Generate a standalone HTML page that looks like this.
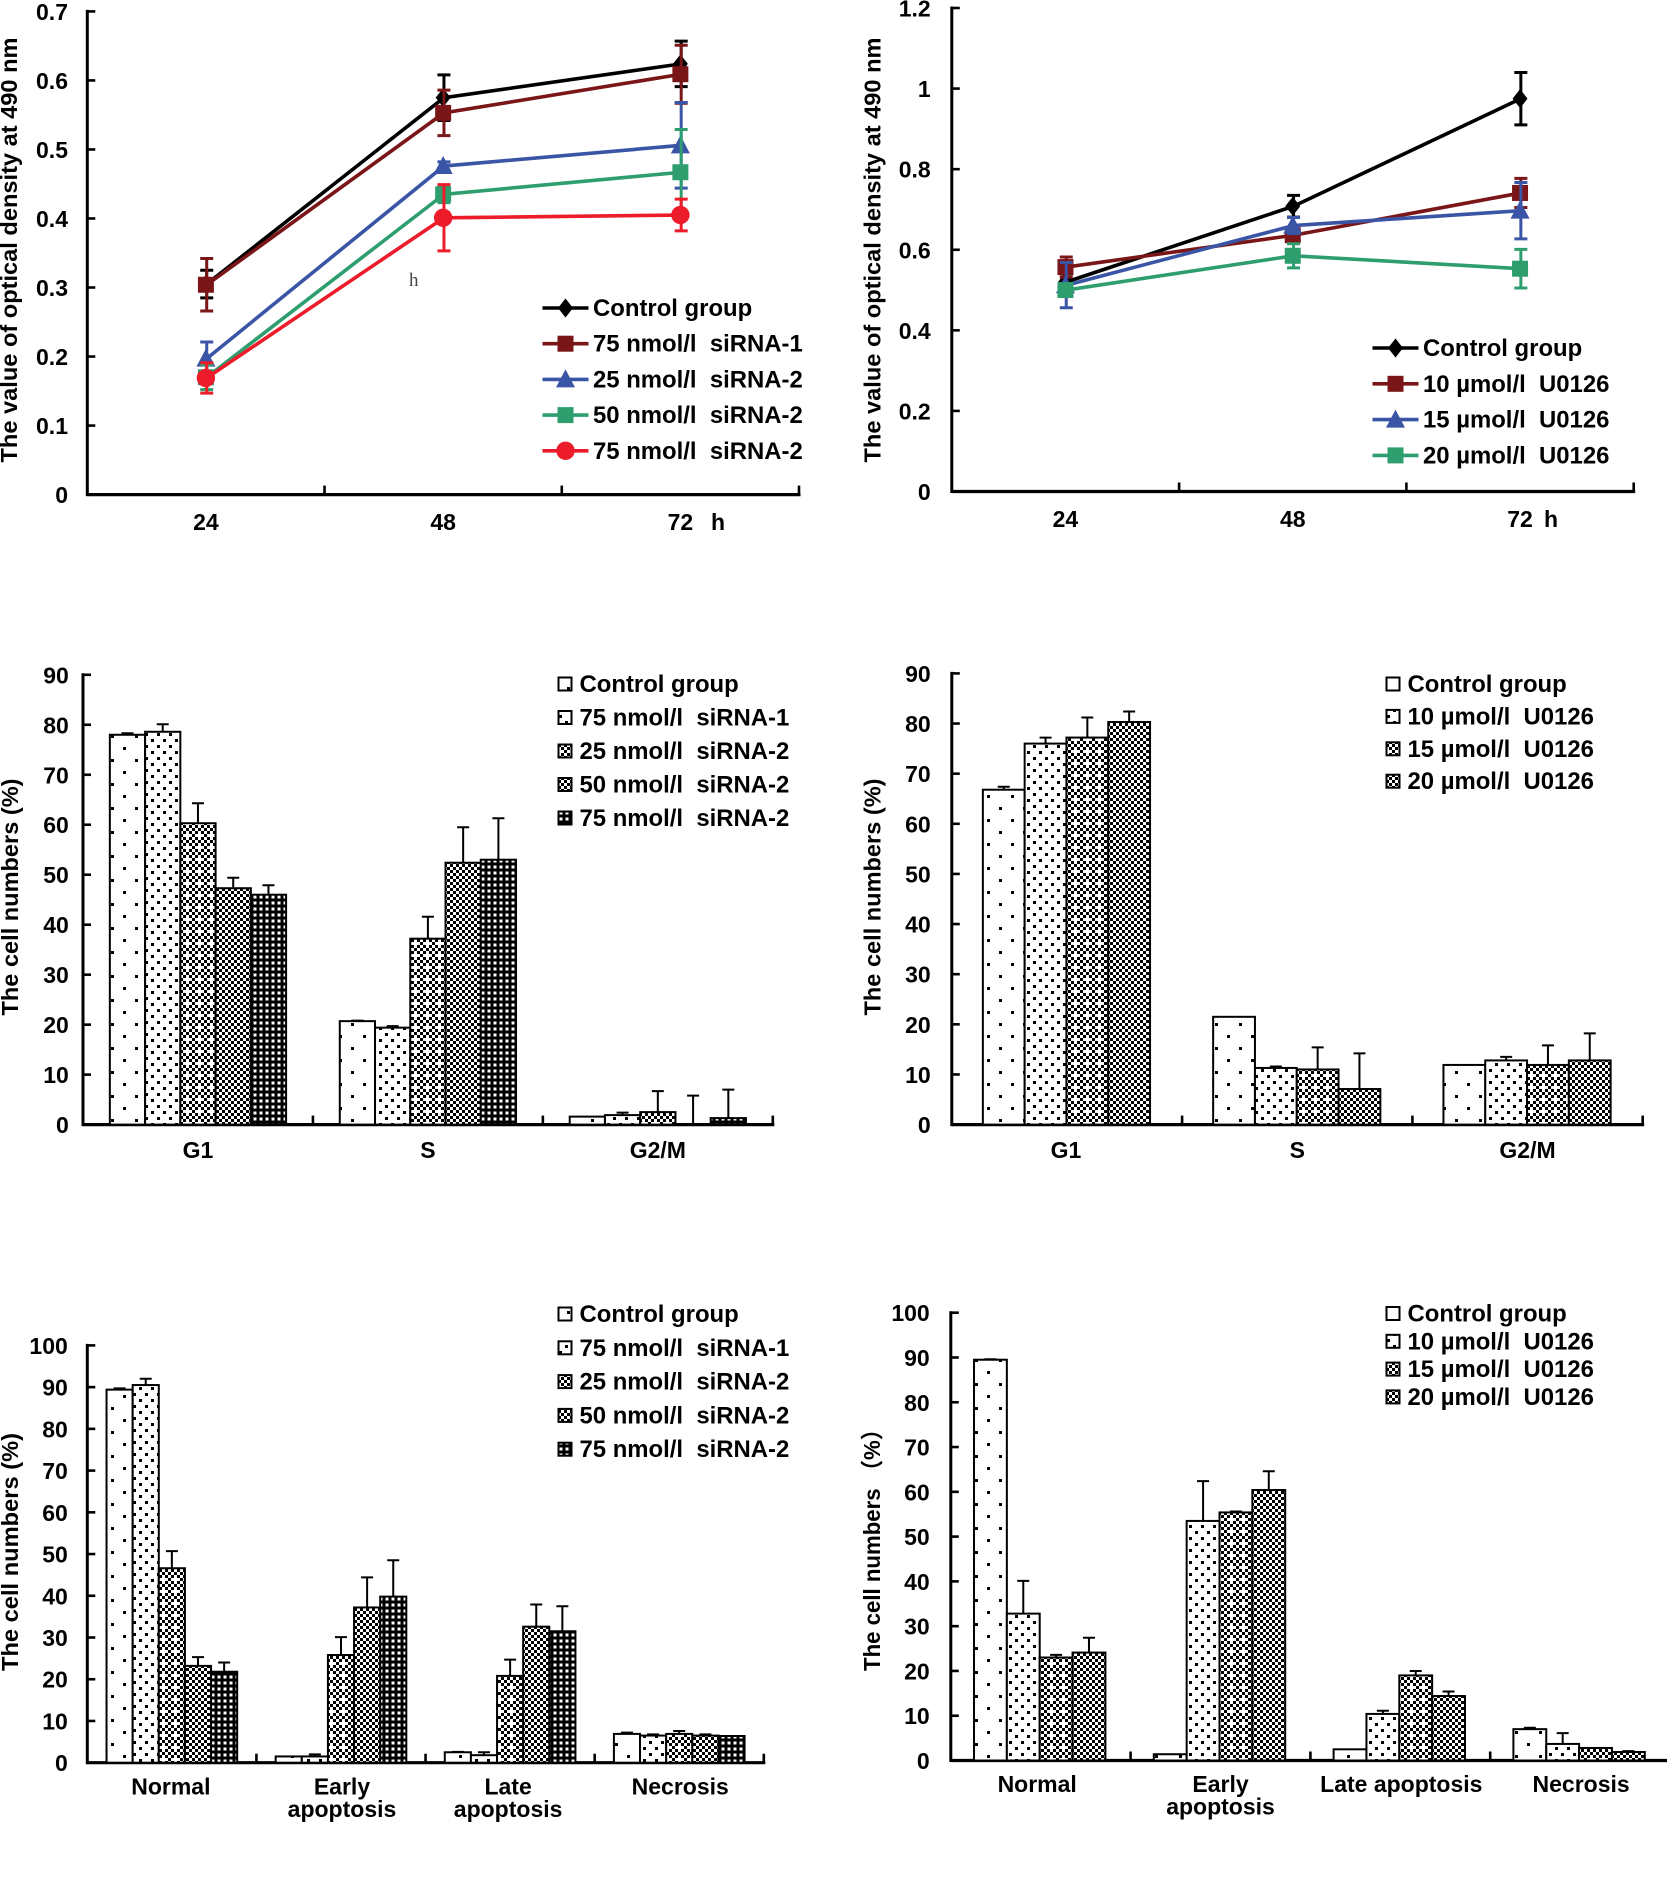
<!DOCTYPE html>
<html lang="en">
<head>
<meta charset="utf-8">
<title>Optical density and cell number charts</title>
<style>
html,body{margin:0;padding:0;background:#fff;width:1667px;height:1900px;overflow:hidden}
svg{display:block}
text{font-family:"Liberation Sans","Noto Sans CJK SC",sans-serif;font-weight:bold;fill:#000;white-space:pre}
</style>
</head>
<body>
<svg id="figure" xmlns="http://www.w3.org/2000/svg" width="1667" height="1900" viewBox="0 0 1667 1900">
<defs>
<pattern id="fill-sparse" width="24" height="24" patternUnits="userSpaceOnUse"><rect width="24" height="24" fill="#fff"/><rect x="3" y="3" width="3" height="3" fill="#000"/><rect x="15" y="15" width="3" height="3" fill="#000"/></pattern>
<pattern id="fill-dense" width="12" height="12" patternUnits="userSpaceOnUse"><rect width="12" height="12" fill="#fff"/><rect x="1" y="1" width="3" height="3" fill="#000"/><rect x="7" y="7" width="3" height="3" fill="#000"/></pattern>
<pattern id="fill-cross" width="12" height="12" patternUnits="userSpaceOnUse"><rect width="12" height="12" fill="#fff"/><rect x="0" y="0" width="3" height="3" fill="#000"/><rect x="6" y="0" width="3" height="3" fill="#000"/><rect x="3" y="3" width="3" height="3" fill="#000"/><rect x="9" y="3" width="3" height="3" fill="#000"/><rect x="0" y="6" width="3" height="3" fill="#000"/><rect x="9" y="9" width="3" height="3" fill="#000"/><rect x="3" y="9" width="3" height="3" fill="#000"/></pattern>
<pattern id="fill-fine" width="6" height="6" patternUnits="userSpaceOnUse"><rect width="6" height="6" fill="#fff"/><rect x="0" y="0" width="3" height="3" fill="#000"/><rect x="3" y="3" width="3" height="3" fill="#000"/></pattern>
<pattern id="fill-dark" width="6" height="6" patternUnits="userSpaceOnUse"><rect width="6" height="6" fill="#000"/><rect x="1.5" y="1.5" width="3" height="3" fill="#fff"/></pattern>
</defs>
<text x="409" y="286" style="font-family:'Liberation Serif',serif;font-weight:normal;font-size:19px;fill:#444">h</text>
</svg>
<script>
// ---------- Chart A: viability, siRNA ----------
const odSiCategories = ['24', '48', '72'];
const odSiTicks = ['0', '0.1', '0.2', '0.3', '0.4', '0.5', '0.6', '0.7'];
const odSiControl = [0.305, 0.575, 0.624];
const odSiControlErr = [0.02, 0.033, 0.033];
const odSi1At75 = [0.304, 0.553, 0.609];
const odSi1At75Err = [0.038, 0.033, 0.042];
const odSi2At25 = [0.197, 0.476, 0.506];
const odSi2At25Err = [0.024, 0.006, 0.062];
const odSi2At50 = [0.17, 0.435, 0.467];
const odSi2At50Err = [0.018, 0.012, 0.062];
const odSi2At75 = [0.169, 0.401, 0.405];
const odSi2At75Err = [0.022, 0.048, 0.023];

// ---------- Chart B: viability, U0126 ----------
const odUCategories = ['24', '48', '72'];
const odUTicks = ['0', '0.2', '0.4', '0.6', '0.8', '1', '1.2'];
const odUControl = [0.52, 0.708, 0.975];
const odUControlErr = [0.02, 0.027, 0.065];
const odUAt10 = [0.557, 0.636, 0.741];
const odUAt10Err = [0.025, 0.01, 0.036];
const odUAt15 = [0.512, 0.66, 0.697];
const odUAt15Err = [0.056, 0.02, 0.07];
const odUAt20 = [0.5, 0.585, 0.553];
const odUAt20Err = [0.015, 0.03, 0.048];

// ---------- Chart C: cell cycle, siRNA ----------
const cycleCategories = ['G1', 'S', 'G2/M'];
const cycleTicks = ['0', '10', '20', '30', '40', '50', '60', '70', '80', '90'];
const cycleSiControl = [78, 20.7, 1.6];
const cycleSiControlErr = [0.3, 0.1, 0];
const cycleSi1At75 = [78.6, 19.4, 1.9];
const cycleSi1At75Err = [1.5, 0.3, 0.5];
const cycleSi2At25 = [60.3, 37.2, 2.5];
const cycleSi2At25Err = [4, 4.4, 4.2];
const cycleSi2At50 = [47.3, 52.4, 0];
const cycleSi2At50Err = [2.1, 7.1, 5.8];
const cycleSi2At75 = [46, 53, 1.3];
const cycleSi2At75Err = [1.9, 8.3, 5.7];

// ---------- Chart D: cell cycle, U0126 ----------
const cycleUControl = [66.8, 21.5, 11.9];
const cycleUControlErr = [0.6, 0, 0];
const cycleUAt10 = [76, 11.3, 12.8];
const cycleUAt10Err = [1.2, 0.3, 0.7];
const cycleUAt15 = [77.2, 11, 11.9];
const cycleUAt15Err = [4, 4.4, 3.9];
const cycleUAt20 = [80.3, 7.1, 12.8];
const cycleUAt20Err = [2.1, 7.1, 5.4];

// ---------- Chart E: apoptosis, siRNA ----------
const apoSiCategories = [['Normal'], ['Early', 'apoptosis'], ['Late', 'apoptosis'], ['Necrosis']];
const apoTicks = ['0', '10', '20', '30', '40', '50', '60', '70', '80', '90', '100'];
const apoSiControl = [89.4, 1.5, 2.5, 6.9];
const apoSiControlErr = [0.3, 0, 0.1, 0.3];
const apoSi1At75 = [90.5, 1.5, 1.8, 6.5];
const apoSi1At75Err = [1.5, 0.5, 0.7, 0.3];
const apoSi2At25 = [46.6, 25.8, 20.8, 6.9];
const apoSi2At25Err = [4.1, 4.3, 3.9, 0.7];
const apoSi2At50 = [23.2, 37.2, 32.6, 6.5];
const apoSi2At50Err = [2.1, 7.2, 5.3, 0.3];
const apoSi2At75 = [21.8, 39.8, 31.5, 6.4];
const apoSi2At75Err = [2.2, 8.7, 6, 0];

// ---------- Chart F: apoptosis, U0126 ----------
const apoUCategories = [['Normal'], ['Early', 'apoptosis'], ['Late apoptosis'], ['Necrosis']];
const apoUControl = [89.5, 1.4, 2.5, 7];
const apoUControlErr = [0.1, 0, 0, 0.3];
const apoUAt10 = [32.8, 53.5, 10.4, 3.7];
const apoUAt10Err = [7.3, 8.9, 0.7, 2.4];
const apoUAt15 = [23, 55.4, 19, 2.8];
const apoUAt15Err = [0.6, 0.2, 1, 0];
const apoUAt20 = [24.1, 60.4, 14.4, 1.9];
const apoUAt20Err = [3.3, 4.2, 1, 0.2];

// ---------- Legend names ----------
const siNames = ['Control group', '75 nmol/l  siRNA-1', '25 nmol/l  siRNA-2', '50 nmol/l  siRNA-2', '75 nmol/l  siRNA-2'];
const uNames = ['Control group', '10 µmol/l  U0126', '15 µmol/l  U0126', '20 µmol/l  U0126'];

const SVG_NS = 'http://www.w3.org/2000/svg';
const figure = document.getElementById('figure');
const TICK_FONT = 23;
const LEGEND_FONT = 23.9;

function svgEl(parent, tag, attrs) {
  const el = document.createElementNS(SVG_NS, tag);
  for (const k in attrs) el.setAttribute(k, attrs[k]);
  parent.appendChild(el);
  return el;
}
function label(parent, str, x, y, size, anchor) {
  const el = svgEl(parent, 'text', { x: x, y: y, 'font-size': size, 'text-anchor': anchor });
  el.textContent = str;
  return el;
}
function kebab(s) {
  return String(s).toLowerCase().replace(/[^a-z0-9]+/g, '-').replace(/^-|-$/g, '');
}

function drawAxes(g, c) {
  const yS = v => c.y0 - v / c.yMax * (c.y0 - c.yTop);
  const band = (c.xRight - c.xLeft) / c.categories.length;
  const yAxis = svgEl(g, 'line', { x1: c.xLeft, x2: c.xLeft, y1: c.yTop - 1.5, y2: c.y0 + 1.5, stroke: '#000', 'stroke-width': 3 });
  
  
  const xAxis = svgEl(g, 'line', { x1: c.xLeft, x2: c.xRight + 1.5, y1: c.y0, y2: c.y0, stroke: '#000', 'stroke-width': 3.2 });
  
  
  c.ticks.forEach(t => {
    const y = yS(Number(t));
    const mark = svgEl(g, 'line', { x1: c.xLeft, x2: c.xLeft + 8, y1: y, y2: y, stroke: '#000', 'stroke-width': 2.6 });
    
    
    const txt = label(g, t, c.tickRight, y + 8.5, TICK_FONT, 'end');
    
    
  });
  c.categories.forEach((cat, i) => {
    const edge = c.xLeft + band * (i + 1);
    const mark = svgEl(g, 'line', { x1: edge, x2: edge, y1: c.y0, y2: c.y0 - 9, stroke: '#000', 'stroke-width': 2.6 });
    
    
    const lines = Array.isArray(cat) ? cat : [cat];
    const shift = c.catShift ? c.catShift[i] : 0;
    lines.forEach((ln, j) => {
      const txt = label(g, ln, c.xLeft + band * (i + 0.5) + shift, c.catBase + j * 22.5, TICK_FONT, 'middle');
      
      
    });
  });
  const title = svgEl(g, 'text', {
    transform: 'translate(' + c.titleX + ',' + c.titleY + ') rotate(-90)',
    'text-anchor': 'middle', 'font-size': 23, textLength: c.titleLen, lengthAdjust: 'spacingAndGlyphs'
  });
  title.textContent = c.title;
  
  
  if (c.unit) {
    const unit = label(g, c.unit, c.unitX, c.catBase, TICK_FONT, 'start');
    
    
  }
  return { yS: yS, band: band };
}

function marker(g, kind, cx, cy, color) {
  let el;
  if (kind === 'diamond') {
    el = svgEl(g, 'polygon', { points: [cx, cy - 9.5, cx + 7.5, cy, cx, cy + 9.5, cx - 7.5, cy].join(' '), fill: color });
  } else if (kind === 'square') {
    el = svgEl(g, 'rect', { x: cx - 8, y: cy - 8, width: 16, height: 16, fill: color });
  } else if (kind === 'triangle') {
    el = svgEl(g, 'polygon', { points: [cx, cy - 10, cx + 9.5, cy + 8, cx - 9.5, cy + 8].join(' '), fill: color });
  } else {
    el = svgEl(g, 'circle', { cx: cx, cy: cy, r: 9.2, fill: color });
  }
  return el;
}

function drawLineChart(c) {
  const g = svgEl(figure, 'g', {});
  
  
  const ax = drawAxes(g, c);
  const xS = i => c.xLeft + ax.band * (i + 0.5) + 0.8;
  c.series.forEach(s => {
    const sg = svgEl(g, 'g', {});
    
    
    s.values.forEach((v, i) => {
      const x = xS(i), top = ax.yS(v + s.err[i]), bot = ax.yS(v - s.err[i]);
      const bar = svgEl(sg, 'path', {
        d: 'M' + x + ' ' + top + 'V' + bot + 'M' + (x - 6.5) + ' ' + top + 'H' + (x + 6.5) + 'M' + (x - 6.5) + ' ' + bot + 'H' + (x + 6.5),
        stroke: s.color, 'stroke-width': 3, fill: 'none'
      });
      
      
    });
    const line = svgEl(sg, 'polyline', {
      points: s.values.map((v, i) => xS(i) + ',' + ax.yS(v)).join(' '),
      fill: 'none', stroke: s.color, 'stroke-width': 3.6
    });
    
    
    s.values.forEach((v, i) => {
      const pt = marker(sg, s.marker, xS(i) - 0.8, ax.yS(v), s.color);
      
      
    });
  });
  const lg = svgEl(g, 'g', {});
  
  
  c.series.forEach((s, i) => {
    const y = c.legY + i * c.legStep;
    const entry = svgEl(lg, 'g', {});
    
    
    svgEl(entry, 'line', { x1: c.legX, x2: c.legX + 46, y1: y, y2: y, stroke: s.color, 'stroke-width': 3.6 });
    marker(entry, s.marker, c.legX + 23, y, s.color);
    label(entry, s.label, c.legX + 50.5, y + 8, LEGEND_FONT, 'start');
  });
}

function drawBarChart(c) {
  const g = svgEl(figure, 'g', {});
  
  
  const ax = drawAxes(g, c);
  const barW = ax.band * c.barFrac;
  const n = c.series.length;
  c.series.forEach((s, si) => {
    const sg = svgEl(g, 'g', {});
    
    
    s.values.forEach((v, i) => {
      const x = c.xLeft + ax.band * (i + 0.5) + c.barShift + (si - n / 2) * barW;
      const y = ax.yS(v), yE = ax.yS(v + s.err[i]), cx = x + barW / 2;
      if (s.err[i] > 0) {
        const e = svgEl(sg, 'path', {
          d: 'M' + cx + ' ' + y + 'V' + yE + 'M' + (cx - 6) + ' ' + yE + 'H' + (cx + 6),
          stroke: '#000', 'stroke-width': 2, fill: 'none'
        });
        
        
      }
      const r = svgEl(sg, 'rect', { x: x, y: y, width: barW, height: Math.max(c.y0 - y, 0), fill: 'url(#' + s.fill + ')', stroke: '#000', 'stroke-width': 2 });
      
      
    });
  });
  const lg = svgEl(g, 'g', {});
  
  
  c.series.forEach((s, i) => {
    const y = c.legY + i * c.legStep;
    const entry = svgEl(lg, 'g', {});
    
    
    svgEl(entry, 'rect', { x: c.legX, y: y - 6.5, width: 13, height: 13, fill: 'url(#' + s.fill + ')', stroke: '#000', 'stroke-width': 2 });
    label(entry, s.label, c.legX + 21, y + 8, LEGEND_FONT, 'start');
  });
}

const BLACK = '#000000', MAROON = '#7a1518', BLUE = '#3a55a5', GREEN = '#2f9e6e', RED = '#ec1c2a';

drawLineChart({
  name: 'viability-chart-sirna', categories: odSiCategories, ticks: odSiTicks, yMax: 0.7,
  xLeft: 87.3, xRight: 799, y0: 494.6, yTop: 11.4, tickRight: 68, catBase: 530, unit: 'h', unitX: 711,
  title: 'The value of optical density at 490 nm', titleX: 17, titleY: 250, titleLen: 425,
  legX: 542.5, legY: 308, legStep: 35.7,
  series: [
    { label: siNames[0], values: odSiControl, err: odSiControlErr, color: BLACK, marker: 'diamond' },
    { label: siNames[1], values: odSi1At75, err: odSi1At75Err, color: MAROON, marker: 'square' },
    { label: siNames[2], values: odSi2At25, err: odSi2At25Err, color: BLUE, marker: 'triangle' },
    { label: siNames[3], values: odSi2At50, err: odSi2At50Err, color: GREEN, marker: 'square' },
    { label: siNames[4], values: odSi2At75, err: odSi2At75Err, color: RED, marker: 'circle' }
  ]
});

drawLineChart({
  name: 'viability-chart-u0126', categories: odUCategories, ticks: odUTicks, yMax: 1.2,
  xLeft: 951.8, xRight: 1633.7, y0: 491.5, yTop: 8, tickRight: 930.7, catBase: 527, unit: 'h', unitX: 1544,
  title: 'The value of optical density at 490 nm', titleX: 880.5, titleY: 250, titleLen: 425,
  legX: 1372.5, legY: 348, legStep: 35.8,
  series: [
    { label: uNames[0], values: odUControl, err: odUControlErr, color: BLACK, marker: 'diamond' },
    { label: uNames[1], values: odUAt10, err: odUAt10Err, color: MAROON, marker: 'square' },
    { label: uNames[2], values: odUAt15, err: odUAt15Err, color: BLUE, marker: 'triangle' },
    { label: uNames[3], values: odUAt20, err: odUAt20Err, color: GREEN, marker: 'square' }
  ]
});

drawBarChart({
  name: 'cell-cycle-chart-sirna', categories: cycleCategories, ticks: cycleTicks, yMax: 90,
  xLeft: 83, xRight: 772.8, y0: 1124.6, yTop: 674.8, tickRight: 68.8, catBase: 1158,
  title: 'The cell numbers (%)', titleX: 18, titleY: 897, titleLen: 237,
  legX: 558.5, legY: 684, legStep: 33.5, barFrac: 0.1533, barShift: 0,
  series: [
    { label: siNames[0], values: cycleSiControl, err: cycleSiControlErr, fill: 'fill-sparse' },
    { label: siNames[1], values: cycleSi1At75, err: cycleSi1At75Err, fill: 'fill-dense' },
    { label: siNames[2], values: cycleSi2At25, err: cycleSi2At25Err, fill: 'fill-cross' },
    { label: siNames[3], values: cycleSi2At50, err: cycleSi2At50Err, fill: 'fill-fine' },
    { label: siNames[4], values: cycleSi2At75, err: cycleSi2At75Err, fill: 'fill-dark' }
  ]
});

drawBarChart({
  name: 'cell-cycle-chart-u0126', categories: cycleCategories, ticks: cycleTicks, yMax: 90,
  xLeft: 951.8, xRight: 1642.7, y0: 1124.6, yTop: 673.4, tickRight: 930.7, catBase: 1158,
  title: 'The cell numbers (%)', titleX: 880.5, titleY: 897, titleLen: 237,
  legX: 1386.5, legY: 684, legStep: 32.4, barFrac: 0.1815, barShift: -0.5,
  catShift: [-1, 0, 0],
  series: [
    { label: uNames[0], values: cycleUControl, err: cycleUControlErr, fill: 'fill-sparse' },
    { label: uNames[1], values: cycleUAt10, err: cycleUAt10Err, fill: 'fill-dense' },
    { label: uNames[2], values: cycleUAt15, err: cycleUAt15Err, fill: 'fill-cross' },
    { label: uNames[3], values: cycleUAt20, err: cycleUAt20Err, fill: 'fill-fine' }
  ]
});

drawBarChart({
  name: 'apoptosis-chart-sirna', categories: apoSiCategories, ticks: apoTicks, yMax: 100,
  xLeft: 87.3, xRight: 763.8, y0: 1762.7, yTop: 1345.4, tickRight: 67.8, catBase: 1794.5,
  title: 'The cell numbers (%)', titleX: 18, titleY: 1552, titleLen: 238,
  legX: 558.5, legY: 1314, legStep: 33.8, barFrac: 0.1545, barShift: 0,
  catShift: [-1, 1, -2, 1],
  series: [
    { label: siNames[0], values: apoSiControl, err: apoSiControlErr, fill: 'fill-sparse' },
    { label: siNames[1], values: apoSi1At75, err: apoSi1At75Err, fill: 'fill-dense' },
    { label: siNames[2], values: apoSi2At25, err: apoSi2At25Err, fill: 'fill-cross' },
    { label: siNames[3], values: apoSi2At50, err: apoSi2At50Err, fill: 'fill-fine' },
    { label: siNames[4], values: apoSi2At75, err: apoSi2At75Err, fill: 'fill-dark' }
  ]
});

drawBarChart({
  name: 'apoptosis-chart-u0126', categories: apoUCategories, ticks: apoTicks, yMax: 100,
  xLeft: 950.8, xRight: 1670, y0: 1760.5, yTop: 1312.7, tickRight: 929.7, catBase: 1792,
  title: 'The cell numbers （%）', titleX: 880, titleY: 1544.5, titleLen: 253,
  legX: 1386.5, legY: 1313.5, legStep: 27.8, barFrac: 0.1827, barShift: -1,
  catShift: [-3.5, 0, 1, 1],
  series: [
    { label: uNames[0], values: apoUControl, err: apoUControlErr, fill: 'fill-sparse' },
    { label: uNames[1], values: apoUAt10, err: apoUAt10Err, fill: 'fill-dense' },
    { label: uNames[2], values: apoUAt15, err: apoUAt15Err, fill: 'fill-cross' },
    { label: uNames[3], values: apoUAt20, err: apoUAt20Err, fill: 'fill-fine' }
  ]
});
</script>
</body>
</html>
